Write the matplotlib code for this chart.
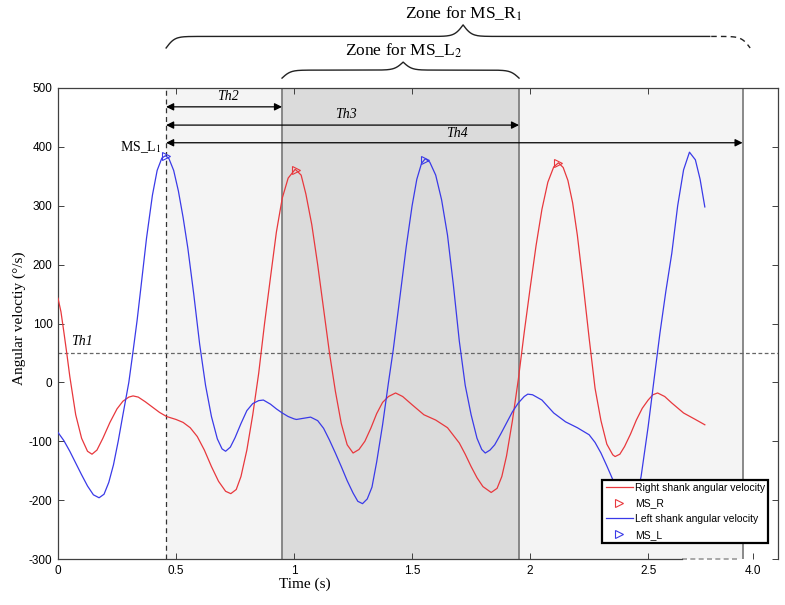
import numpy as np
import matplotlib
matplotlib.use('Agg')
import matplotlib.pyplot as plt

plt.rcParams['mathtext.fontset'] = 'stix'

# right shank (red) angular velocity
red_t = [0, 0.0125, 0.025, 0.037, 0.05, 0.075, 0.10, 0.125, 0.144, 0.165, 0.19, 0.22, 0.25, 0.275,
         0.30, 0.318, 0.34, 0.37, 0.40, 0.43, 0.46, 0.50, 0.53, 0.56, 0.59, 0.62, 0.65, 0.68,
         0.71, 0.732, 0.755, 0.775, 0.80, 0.825, 0.85, 0.875, 0.90, 0.925, 0.95, 0.975, 1.005,
         1.03, 1.05, 1.075, 1.10, 1.125, 1.15, 1.175, 1.20, 1.225, 1.25, 1.275, 1.30, 1.325,
         1.35, 1.375, 1.40, 1.43, 1.46, 1.50, 1.55, 1.60, 1.65, 1.70, 1.725, 1.75, 1.775, 1.80,
         1.835, 1.86, 1.88, 1.90, 1.925, 1.95, 1.975, 2.00, 2.025, 2.05, 2.075, 2.10, 2.12, 2.14,
         2.16, 2.18, 2.20, 2.225, 2.25, 2.275, 2.30, 2.325, 2.35, 2.36, 2.38, 2.40, 2.425, 2.45,
         2.475, 2.50, 2.52, 2.54, 2.57, 2.60, 2.65, 2.70, 2.74]
red_v = [143, 120, 85, 50, 10, -55, -95, -117, -122, -115, -95, -68, -45, -32,
         -25, -23, -25, -33, -42, -51, -58, -63, -68, -77, -92, -115, -143, -168,
         -185, -189, -182, -160, -115, -55, 15, 100, 178, 255, 313, 347, 362,
         352, 320, 268, 200, 125, 50, -15, -70, -106, -120, -114, -100, -78,
         -53, -34, -24, -18, -24, -38, -55, -64, -77, -103, -122, -143, -162, -177,
         -187, -180, -160, -125, -65, 5, 85, 160, 232, 294, 340, 366, 373, 365,
         343, 305, 250, 165, 75, -10, -65, -105, -123, -126, -122, -109, -88, -64,
         -44, -30, -21, -18, -24, -35, -52, -63, -72]

# left shank (blue) angular velocity
blue_t = [0, 0.025, 0.05, 0.075, 0.10, 0.125, 0.15, 0.174, 0.195, 0.215, 0.235, 0.255, 0.275,
          0.30, 0.317, 0.335, 0.35, 0.375, 0.40, 0.42, 0.44, 0.455, 0.47, 0.49, 0.51, 0.53,
          0.55, 0.575, 0.60, 0.625, 0.65, 0.675, 0.695, 0.71, 0.73, 0.75, 0.775, 0.80, 0.825,
          0.85, 0.87, 0.90, 0.925, 0.95, 0.975, 1.00, 1.01, 1.04, 1.07, 1.10, 1.125, 1.15,
          1.175, 1.20, 1.225, 1.25, 1.27, 1.29, 1.31, 1.33, 1.35, 1.375, 1.40, 1.42, 1.45,
          1.475, 1.50, 1.52, 1.54, 1.556, 1.575, 1.60, 1.625, 1.65, 1.675, 1.70, 1.725, 1.75,
          1.775, 1.795, 1.81, 1.83, 1.85, 1.875, 1.90, 1.925, 1.95, 1.975, 1.99, 2.01, 2.05,
          2.10, 2.15, 2.20, 2.25, 2.275, 2.30, 2.325, 2.35, 2.375, 2.40, 2.43, 2.45, 2.47,
          2.50, 2.525, 2.55, 2.575, 2.60, 2.625, 2.65, 2.675, 2.70, 2.72, 2.74]
blue_v = [-85, -99, -117, -137, -157, -176, -191, -196, -190, -170, -140, -100, -55,
          0, 50, 105, 157, 245, 318, 360, 381, 385, 380, 360, 325, 280,
          228, 150, 65, -5, -58, -96, -113, -117, -110, -94, -70, -48, -36,
          -31, -30, -37, -45, -52, -58, -62, -63, -61, -59, -65, -78, -98,
          -120, -143, -167, -188, -202, -206, -198, -178, -135, -72, 0, 55, 150,
          230, 300, 345, 372, 380, 374, 352, 310, 250, 165, 70, -5, -55,
          -95, -114, -120, -115, -106, -88, -69, -50, -35, -24, -20, -21, -30,
          -52, -67, -77, -89, -102, -120, -142, -165, -185, -200, -205, -195, -160,
          -75, 5, 84, 155, 219, 300, 361, 391, 378, 345, 298]

# detected mid-swing peaks
msr_t = [1.01, 2.12]
msr_v = [360, 372]
msl_t = [0.458, 1.556]
msl_v = [384, 378]

# zone edges and threshold levels
ms_l1 = 0.458
zone_l2 = (0.949, 1.953)
zone_end = 2.90
th1 = 50
arrows = [('Th2', 0.949, 468, 0.72, 486), ('Th3', 1.953, 437, 1.22, 455), ('Th4', 2.90, 407, 1.69, 423)]

xticks = [0, 0.5, 1, 1.5, 2, 2.5]
xticklabels = ['0', '0.5', '1', '1.5', '2', '2.5']
yticks = list(range(-300, 501, 100))

serif = ['Liberation Serif', 'DejaVu Serif']
sans = ['Liberation Sans', 'DejaVu Sans']

fig = plt.figure(figsize=(7.85, 6.05), dpi=100)
ax = fig.add_axes([58 / 785, 46 / 605, 720 / 785, 471 / 605])

ax.axvspan(ms_l1, zone_end, color='#f4f4f4', lw=0, zorder=0)
ax.axvspan(zone_l2[0], zone_l2[1], color='#dbdbdb', lw=0, zorder=0)
for xe in [zone_l2[0], zone_l2[1], zone_end]:
    ax.axvline(xe, color='#808080', lw=1.3, zorder=1)
ax.axvline(ms_l1, color='#333333', lw=0.9, ls=(0, (4, 3)), zorder=1)
ax.axhline(th1, color='#666666', lw=0.9, ls=(0, (3, 2)), zorder=1)

ax.plot(red_t, red_v, color='#e8383d', lw=0.9, label='Right shank angular velocity', zorder=3)
ax.plot(msr_t, msr_v, ls='none', marker='>', mfc='none', mec='#e8383d', ms=6, mew=0.8,
        label='MS_R', zorder=4)
ax.plot(blue_t, blue_v, color='#3a3ae8', lw=0.9, label='Left shank angular velocity', zorder=3)
ax.plot(msl_t, msl_v, ls='none', marker='>', mfc='none', mec='#3a3ae8', ms=6, mew=0.8,
        label='MS_L', zorder=4)

for name, x1, y, tx, ty in arrows:
    ax.annotate('', xy=(x1, y), xytext=(ms_l1, y),
                arrowprops=dict(arrowstyle='<|-|>', color='black', lw=0.9,
                                mutation_scale=11, shrinkA=0, shrinkB=0), zorder=5)
    ax.text(tx, ty, name, family=serif, style='italic', fontsize=10, ha='center', va='center')
ax.text(0.10, 70, 'Th1', family=serif, style='italic', fontsize=10, ha='center', va='center')
ax.text(0.35, 400, 'MS_L$_1$', family=serif, fontsize=10, ha='center', va='center')


def brace(x0, xm, x1, ybase, h, beta=55, n=200):
    xl = np.linspace(x0, xm, n)
    yl = 1 / (1 + np.exp(-beta * (xl - x0))) + 1 / (1 + np.exp(-beta * (xl - xm)))
    xr = np.linspace(xm, x1, n)
    yr = 1 / (1 + np.exp(beta * (xr - x1))) + 1 / (1 + np.exp(beta * (xr - xm)))
    return np.concatenate((xl, xr)), ybase + (np.concatenate((yl, yr)) - 0.5) * h


tr = ax.get_xaxis_transform()
bx, by = brace(ms_l1, 1.716, 2.932, 1.085, 0.049)
solid = bx <= 2.763
ax.plot(bx[solid], by[solid], color='#222222', lw=1.0, transform=tr, clip_on=False)
ax.plot(bx[~solid], by[~solid], color='#222222', lw=1.0, ls=(0, (4, 3)), transform=tr, clip_on=False)
bx, by = brace(zone_l2[0], 1.462, zone_l2[1], 1.021, 0.034)
ax.plot(bx, by, color='#222222', lw=1.0, transform=tr, clip_on=False)
ax.text(1.72, 1.157, 'Zone for MS_R$_1$', family=serif, fontsize=12.5, ha='center', va='center',
        transform=tr)
ax.text(1.462, 1.079, 'Zone for MS_L$_2$', family=serif, fontsize=12.5, ha='center', va='center',
        transform=tr)

ax.set_xlim(0, 3.05)
ax.set_ylim(-300, 500)
ax.set_xticks(xticks)
ax.set_xticklabels(xticklabels, family=sans, fontsize=8.5)
ax.set_xticks([2.945], minor=True)
ax.set_xticklabels(['4.0'], minor=True, family=sans, fontsize=8.5)
ax.set_yticks(yticks)
ax.set_yticklabels([str(v) for v in yticks], family=sans, fontsize=8.5)
ax.tick_params(which='both', direction='in', length=4, width=0.7, color='#404040',
               top=True, right=True, pad=4)
ax.tick_params(which='minor', top=False)

for s in ax.spines.values():
    s.set_color('#404040')
    s.set_linewidth(0.9)
ax.spines['bottom'].set_bounds(0, 2.645)
ax.plot([2.645, 2.88], [0, 0], color='#999999', lw=1.2, ls=(0, (3, 2)), transform=tr, clip_on=False)

ax.set_xlabel('Time (s)', family=serif, fontsize=11)
ax.xaxis.set_label_coords(0.343, -0.040)
ax.set_ylabel('Angular veloctiy (°/s)', family=serif, fontsize=11)
ax.yaxis.set_label_coords(-0.045, 0.512)

leg = ax.legend(loc='lower right', bbox_to_anchor=(0.986, 0.034), prop={'family': sans, 'size': 7.5},
                fancybox=False, framealpha=1, edgecolor='black', borderpad=0.3, labelspacing=0.55,
                handlelength=2.6, handletextpad=0.2, borderaxespad=0)
leg.get_frame().set_linewidth(1.6)
leg.set_zorder(10)

fig.savefig('out.png', dpi=100)
